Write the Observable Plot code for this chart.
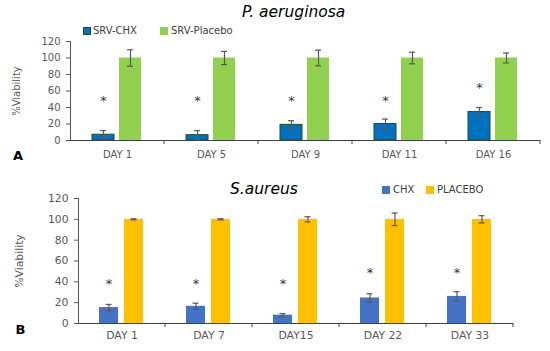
<!DOCTYPE html>
<html><head><meta charset="utf-8">
<script src="https://cdn.jsdelivr.net/npm/d3@7"></script>
<script src="https://cdn.jsdelivr.net/npm/@observablehq/plot@0.6"></script>
<style>
body{margin:0;background:#fff;}
#wrap{position:relative;width:550px;height:351px;overflow:hidden;font-family:"DejaVu Sans",sans-serif;}
.chart{position:absolute;left:0;}
.t{position:absolute;white-space:nowrap;line-height:1;}
.title{font-style:italic;font-size:15.5px;color:#000;}
.leg{font-size:10px;color:#404040;}
.sw{position:absolute;width:8px;height:8px;}
.panel{font-weight:bold;font-size:13px;color:#000;}
svg [aria-label="y-axis tick"], svg [aria-label="frame"]{stroke:#404040;}
</style></head>
<body><div id="wrap">
<div class="chart" id="c1" style="top:0"></div>
<div class="chart" id="c2" style="top:175px"></div>
</div>
<script>
// ---- Panel A: P. aeruginosa ----
const titleA = "P. aeruginosa";
const daysA = ["DAY 1", "DAY 5", "DAY 9", "DAY 11", "DAY 16"];
const seriesA = ["SRV-CHX", "SRV-Placebo"];
const chxA = [7, 6.5, 19, 20, 34.5];
const chxErrA = [5, 5.5, 5, 6, 5.5];
const placeboA = [100, 100, 100, 100, 100];
const placeboErrA = [10, 8, 9.5, 7, 6];
const starA = [48, 48, 48, 48, 64];

// ---- Panel B: S. aureus ----
const titleB = "S.aureus";
const daysB = ["DAY 1", "DAY 7", "DAY15", "DAY 22", "DAY 33"];
const seriesB = ["CHX", "PLACEBO"];
const chxB = [15.3, 16.5, 8, 24.5, 26];
const chxErrB = [3, 3, 1.5, 4, 4.5];
const placeboB = [100, 100, 100, 100, 100];
const placeboErrB = [0.5, 0.5, 2.5, 6, 3.5];
const starB = [38, 38, 38, 49, 49];

const yTicks = [0, 20, 40, 60, 80, 100, 120];

function rowsFor(days, series, v1, e1, v2, e2) {
  return days.flatMap((d, i) => [
    {day: d, series: series[0], value: v1[i], err: e1[i]},
    {day: d, series: series[1], value: v2[i], err: e2[i]}
  ]);
}

function panel(o) {
  const rows = rowsFor(o.days, o.series, o.v1, o.e1, o.v2, o.e2);
  const stars = o.days.map((d, i) => ({day: d, series: o.series[0], y: o.stars[i]}));
  const chart = Plot.plot({
    width: 550, height: o.height,
    marginTop: o.mt, marginBottom: o.mb, marginLeft: o.ml, marginRight: o.mr,
    style: {fontFamily: "DejaVu Sans", fontSize: o.fontSize + "px", color: "#595959", background: "transparent"},
    fx: {domain: o.days, padding: 0, axis: "bottom", label: null, tickSize: 0, tickPadding: o.fxPad},
    x: {domain: o.series, paddingInner: o.pin, paddingOuter: o.pout, axis: null},
    y: {domain: [0, 120], ticks: yTicks, tickSize: 4, tickPadding: 6, line: true,
        label: "%Viability", labelAnchor: "center", labelArrow: false, labelOffset: o.labelOffset},
    color: {domain: o.series, range: o.colors},
    marks: [
      Plot.barY(rows, {fx: "day", x: "series", y: "value", fill: "series",
        stroke: d => d.series === o.series[0] ? o.stroke0 : "none", strokeWidth: 1}),
      Plot.ruleY([0], {stroke: "#404040"}),
      Plot.ruleX(rows, {fx: "day", x: "series", y1: d => d.value - d.err, y2: d => d.value + d.err, stroke: "#595959", strokeWidth: 1.2}),
      Plot.tickY(rows, {fx: "day", x: "series", y: d => d.value - d.err, insetLeft: o.capInset, insetRight: o.capInset, stroke: "#595959", strokeWidth: 1.2}),
      Plot.tickY(rows, {fx: "day", x: "series", y: d => d.value + d.err, insetLeft: o.capInset, insetRight: o.capInset, stroke: "#595959", strokeWidth: 1.2}),
      Plot.text(stars, {fx: "day", x: "series", y: "y", text: () => "*", fontSize: 13, fill: "#333", dy: 0})
    ]
  });
  // category-boundary tick marks on the x axis, from the fx scale
  const fx = chart.scale("fx");
  const y0 = chart.scale("y").apply(0);
  const g = d3.select(chart).append("g").attr("stroke", "#404040");
  o.days.forEach(d => {
    const xr = fx.apply(d) + fx.bandwidth;
    g.append("line").attr("x1", xr).attr("x2", xr).attr("y1", y0).attr("y2", y0 + 4);
  });
  document.getElementById(o.el).appendChild(chart);
}

panel({el: "c1", days: daysA, series: seriesA, v1: chxA, e1: chxErrA, v2: placeboA, e2: placeboErrA, stars: starA,
  height: 175, mt: 41, mb: 35, ml: 70, mr: 10, fontSize: 10, fxPad: 10,
  pin: 0.185, pout: 0.833, capInset: 8, colors: ["#0070C0", "#92D050"], stroke0: "#2b4a2b", labelOffset: 58});
panel({el: "c2", days: daysB, series: seriesB, v1: chxB, e1: chxErrB, v2: placeboB, e2: placeboErrB, stars: starB,
  height: 176, mt: 23, mb: 28, ml: 77, mr: 36, fontSize: 10.8, fxPad: 8,
  pin: 0.235, pout: 0.833, capInset: 6.5, colors: ["#4472C4", "#FFC000"], stroke0: "none", labelOffset: 63});

// titles, legends and panel letters
const wrap = document.getElementById("wrap");
function addText(cls, txt, left, top) {
  const el = document.createElement("div");
  el.className = "t " + cls; el.textContent = txt;
  el.style.left = left + "px"; el.style.top = top + "px";
  wrap.appendChild(el);
}
function addSwatch(color, left, top, border) {
  const el = document.createElement("div");
  el.className = "sw"; el.style.background = color;
  el.style.left = left + "px"; el.style.top = top + "px";
  if (border) { el.style.boxSizing = "border-box"; el.style.border = "1px solid " + border; }
  wrap.appendChild(el);
}
addText("title", titleA, 242, 4.6);
addSwatch("#0070C0", 83, 26.7, "#2b4a2b"); addText("leg", seriesA[0], 93, 25.9);
addSwatch("#92D050", 160, 26.7); addText("leg", seriesA[1], 171, 25.9);
addText("panel", "A", 13, 148.8);
addText("title", titleB, 230, 181.6);
addSwatch("#4472C4", 382, 186); addText("leg", seriesB[0], 393, 185.2);
addSwatch("#FFC000", 426, 186); addText("leg", seriesB[1], 437, 185.2);
addText("panel", "B", 15.5, 322.8);
</script>
</body></html>
